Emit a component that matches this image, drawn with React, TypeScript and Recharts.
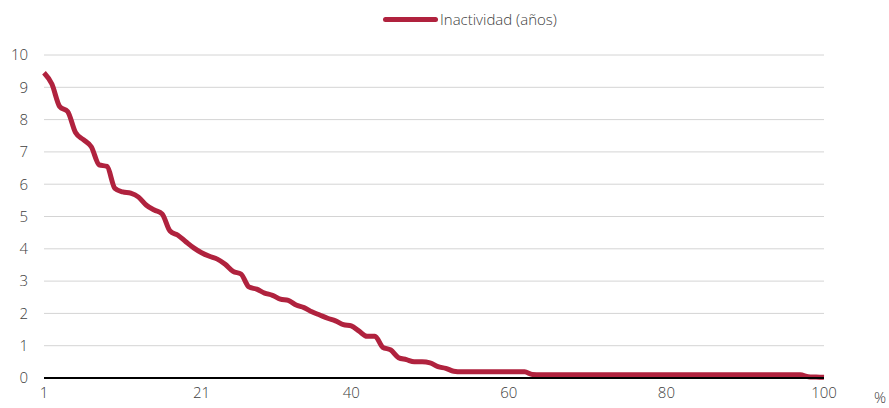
import React from "react";
import { LineChart, Line, XAxis, YAxis, CartesianGrid, Legend } from "recharts";

// percentile of the population (x) and years of inactivity (y)
const percentiles = Array.from({ length: 100 }, (_, i) => i + 1);
const inactividad = [
  9.45, 9.1, 8.4, 8.25, 7.6, 7.38, 7.16, 6.6, 6.55, 5.87,
  5.76, 5.72, 5.6, 5.35, 5.2, 5.08, 4.55, 4.42, 4.22, 4.03,
  3.88, 3.77, 3.68, 3.52, 3.3, 3.22, 2.82, 2.75, 2.63, 2.56,
  2.44, 2.4, 2.26, 2.18, 2.05, 1.95, 1.85, 1.77, 1.65, 1.61,
  1.45, 1.29, 1.29, 0.95, 0.87, 0.63, 0.57, 0.5, 0.5, 0.47,
  0.35, 0.3, 0.21, 0.19, 0.19, 0.19, 0.19, 0.19, 0.19, 0.19,
  0.19, 0.19, 0.11, 0.1, 0.1, 0.1, 0.1, 0.1, 0.1, 0.1,
  0.1, 0.1, 0.1, 0.1, 0.1, 0.1, 0.1, 0.1, 0.1, 0.1,
  0.1, 0.1, 0.1, 0.1, 0.1, 0.1, 0.1, 0.1, 0.1, 0.1,
  0.1, 0.1, 0.1, 0.1, 0.1, 0.1, 0.1, 0.04, 0.03, 0.02,
];
const xTicks = [1, 21, 40, 60, 80, 100];
const yTicks = [0, 1, 2, 3, 4, 5, 6, 7, 8, 9, 10];

const data = percentiles.map((p, i) => ({ p, value: inactividad[i] }));

const RED = "#b0223e";
const FONT = "'Open Sans', sans-serif";
const tickStyle = {
  fontFamily: FONT,
  fontSize: 15,
  fontWeight: 300,
  fill: "#404040",
};

const LegendContent = () => (
  <div style={{ display: "flex", alignItems: "center", fontFamily: FONT, fontSize: 15, fontWeight: 300, color: "#404040", lineHeight: "20px" }}>
    <span style={{ display: "inline-block", width: 55, height: 5, borderRadius: 3, background: RED, marginRight: 2 }} />
    <span>Inactividad (años)</span>
  </div>
);

export default function App() {
  return (
    <>
      <style>{"body{margin:0}"}</style>
      <LineChart width={889} height={408} data={data} margin={{ top: 35, right: 65, bottom: 0, left: 0 }}>
        <CartesianGrid vertical={false} stroke="#d4d4d4" strokeWidth={1} />
        <Legend
          verticalAlign="top"
          height={20}
          content={<LegendContent />}
          wrapperStyle={{ top: 9, left: 383, width: "auto" }}
        />
        <XAxis
          dataKey="p"
          type="number"
          domain={[1, 100]}
          ticks={xTicks}
          height={30}
          tickLine={false}
          tickMargin={3}
          axisLine={{ stroke: "#000", strokeWidth: 2 }}
          tick={tickStyle}
          label={{ value: "%", position: "right", offset: 50, dy: 5, style: tickStyle }}
        />
        <YAxis
          domain={[0, 10]}
          ticks={yTicks}
          width={44}
          axisLine={false}
          tickLine={false}
          tickMargin={10}
          tick={tickStyle}
          interval={0}
        />
        <Line
          type="monotone"
          dataKey="value"
          name="Inactividad (años)"
          stroke={RED}
          strokeWidth={5}
          dot={false}
          activeDot={false}
          isAnimationActive={false}
        />
      </LineChart>
    </>
  );
}
